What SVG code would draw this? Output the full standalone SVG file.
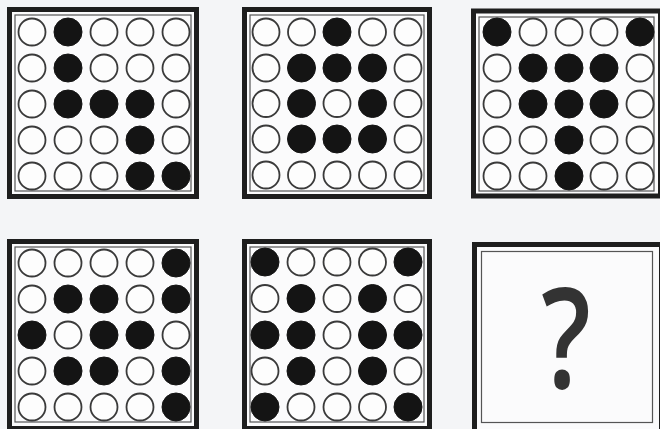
<svg xmlns="http://www.w3.org/2000/svg" width="660" height="429" viewBox="0 0 660 429">
<style>
.bg{fill:#f4f5f7}
.frame{fill:#fbfbfc;stroke:#1e1e1e;stroke-width:5}
.inner{fill:none;stroke:#555;stroke-width:1.2}
.o{fill:#fdfdfd;stroke:#3a3a3a;stroke-width:1.8}
.f{fill:#141414;stroke:#141414;stroke-width:1}
.q{font-family:"Open Sans","DejaVu Sans",sans-serif;font-size:140px;font-weight:600;fill:#333;text-anchor:middle}
</style>
<rect class="bg" x="0" y="0" width="660" height="429"/>

<g id="panel1">
<rect class="frame" x="9.5" y="9.5" width="187" height="187"/>
<rect class="inner" x="15" y="15" width="176" height="176"/>
<g transform="translate(32,32)">
<circle class="o" cx="0" cy="0" r="13.5"/><circle class="f" cx="36" cy="0" r="14"/><circle class="o" cx="72" cy="0" r="13.5"/><circle class="o" cx="108" cy="0" r="13.5"/><circle class="o" cx="144" cy="0" r="13.5"/>
<circle class="o" cx="0" cy="36" r="13.5"/><circle class="f" cx="36" cy="36" r="14"/><circle class="o" cx="72" cy="36" r="13.5"/><circle class="o" cx="108" cy="36" r="13.5"/><circle class="o" cx="144" cy="36" r="13.5"/>
<circle class="o" cx="0" cy="72" r="13.5"/><circle class="f" cx="36" cy="72" r="14"/><circle class="f" cx="72" cy="72" r="14"/><circle class="f" cx="108" cy="72" r="14"/><circle class="o" cx="144" cy="72" r="13.5"/>
<circle class="o" cx="0" cy="108" r="13.5"/><circle class="o" cx="36" cy="108" r="13.5"/><circle class="o" cx="72" cy="108" r="13.5"/><circle class="f" cx="108" cy="108" r="14"/><circle class="o" cx="144" cy="108" r="13.5"/>
<circle class="o" cx="0" cy="144" r="13.5"/><circle class="o" cx="36" cy="144" r="13.5"/><circle class="o" cx="72" cy="144" r="13.5"/><circle class="f" cx="108" cy="144" r="14"/><circle class="f" cx="144" cy="144" r="14"/>
</g>
</g>

<g id="panel2">
<rect class="frame" x="244.5" y="9.5" width="185" height="187"/>
<rect class="inner" x="250" y="15" width="174" height="176"/>
<g transform="translate(266,32)">
<circle class="o" cx="0" cy="0" r="13.5"/><circle class="o" cx="35.5" cy="0" r="13.5"/><circle class="f" cx="71" cy="0" r="14"/><circle class="o" cx="106.5" cy="0" r="13.5"/><circle class="o" cx="142" cy="0" r="13.5"/>
<circle class="o" cx="0" cy="36" r="13.5"/><circle class="f" cx="35.5" cy="36" r="14"/><circle class="f" cx="71" cy="36" r="14"/><circle class="f" cx="106.5" cy="36" r="14"/><circle class="o" cx="142" cy="36" r="13.5"/>
<circle class="o" cx="0" cy="71.5" r="13.5"/><circle class="f" cx="35.5" cy="71.5" r="14"/><circle class="o" cx="71" cy="71.5" r="13.5"/><circle class="f" cx="106.5" cy="71.5" r="14"/><circle class="o" cx="142" cy="71.5" r="13.5"/>
<circle class="o" cx="0" cy="107" r="13.5"/><circle class="f" cx="35.5" cy="107" r="14"/><circle class="f" cx="71" cy="107" r="14"/><circle class="f" cx="106.5" cy="107" r="14"/><circle class="o" cx="142" cy="107" r="13.5"/>
<circle class="o" cx="0" cy="143" r="13.5"/><circle class="o" cx="35.5" cy="143" r="13.5"/><circle class="o" cx="71" cy="143" r="13.5"/><circle class="o" cx="106.5" cy="143" r="13.5"/><circle class="o" cx="142" cy="143" r="13.5"/>
</g>
</g>

<g id="panel3">
<rect class="frame" x="473.5" y="11" width="187" height="185"/>
<rect class="inner" x="479" y="17" width="175" height="174"/>
<g transform="translate(497,32)">
<circle class="f" cx="0" cy="0" r="14"/><circle class="o" cx="36" cy="0" r="13.5"/><circle class="o" cx="72" cy="0" r="13.5"/><circle class="o" cx="107" cy="0" r="13.5"/><circle class="f" cx="143" cy="0" r="14"/>
<circle class="o" cx="0" cy="36" r="13.5"/><circle class="f" cx="36" cy="36" r="14"/><circle class="f" cx="72" cy="36" r="14"/><circle class="f" cx="107" cy="36" r="14"/><circle class="o" cx="143" cy="36" r="13.5"/>
<circle class="o" cx="0" cy="72" r="13.5"/><circle class="f" cx="36" cy="72" r="14"/><circle class="f" cx="72" cy="72" r="14"/><circle class="f" cx="107" cy="72" r="14"/><circle class="o" cx="143" cy="72" r="13.5"/>
<circle class="o" cx="0" cy="108" r="13.5"/><circle class="o" cx="36" cy="108" r="13.5"/><circle class="f" cx="72" cy="108" r="14"/><circle class="o" cx="107" cy="108" r="13.5"/><circle class="o" cx="143" cy="108" r="13.5"/>
<circle class="o" cx="0" cy="144" r="13.5"/><circle class="o" cx="36" cy="144" r="13.5"/><circle class="f" cx="72" cy="144" r="14"/><circle class="o" cx="107" cy="144" r="13.5"/><circle class="o" cx="143" cy="144" r="13.5"/>
</g>
</g>

<g id="panel4">
<rect class="frame" x="9.5" y="241.5" width="187" height="187"/>
<rect class="inner" x="15" y="247" width="176" height="175"/>
<g transform="translate(32,263)">
<circle class="o" cx="0" cy="0" r="13.5"/><circle class="o" cx="36" cy="0" r="13.5"/><circle class="o" cx="72" cy="0" r="13.5"/><circle class="o" cx="108" cy="0" r="13.5"/><circle class="f" cx="144" cy="0" r="14"/>
<circle class="o" cx="0" cy="36" r="13.5"/><circle class="f" cx="36" cy="36" r="14"/><circle class="f" cx="72" cy="36" r="14"/><circle class="o" cx="108" cy="36" r="13.5"/><circle class="f" cx="144" cy="36" r="14"/>
<circle class="f" cx="0" cy="72" r="14"/><circle class="o" cx="36" cy="72" r="13.5"/><circle class="f" cx="72" cy="72" r="14"/><circle class="f" cx="108" cy="72" r="14"/><circle class="o" cx="144" cy="72" r="13.5"/>
<circle class="o" cx="0" cy="108" r="13.5"/><circle class="f" cx="36" cy="108" r="14"/><circle class="f" cx="72" cy="108" r="14"/><circle class="o" cx="108" cy="108" r="13.5"/><circle class="f" cx="144" cy="108" r="14"/>
<circle class="o" cx="0" cy="144" r="13.5"/><circle class="o" cx="36" cy="144" r="13.5"/><circle class="o" cx="72" cy="144" r="13.5"/><circle class="o" cx="108" cy="144" r="13.5"/><circle class="f" cx="144" cy="144" r="14"/>
</g>
</g>

<g id="panel5">
<rect class="frame" x="244.5" y="241.5" width="185" height="187"/>
<rect class="inner" x="250" y="247" width="174" height="175"/>
<g transform="translate(265,262)">
<circle class="f" cx="0" cy="0" r="14"/><circle class="o" cx="36" cy="0" r="13.5"/><circle class="o" cx="72" cy="0" r="13.5"/><circle class="o" cx="107.5" cy="0" r="13.5"/><circle class="f" cx="143" cy="0" r="14"/>
<circle class="o" cx="0" cy="36.5" r="13.5"/><circle class="f" cx="36" cy="36.5" r="14"/><circle class="o" cx="72" cy="36.5" r="13.5"/><circle class="f" cx="107.5" cy="36.5" r="14"/><circle class="o" cx="143" cy="36.5" r="13.5"/>
<circle class="f" cx="0" cy="73" r="14"/><circle class="f" cx="36" cy="73" r="14"/><circle class="o" cx="72" cy="73" r="13.5"/><circle class="f" cx="107.5" cy="73" r="14"/><circle class="f" cx="143" cy="73" r="14"/>
<circle class="o" cx="0" cy="109" r="13.5"/><circle class="f" cx="36" cy="109" r="14"/><circle class="o" cx="72" cy="109" r="13.5"/><circle class="f" cx="107.5" cy="109" r="14"/><circle class="o" cx="143" cy="109" r="13.5"/>
<circle class="f" cx="0" cy="145" r="14"/><circle class="o" cx="36" cy="145" r="13.5"/><circle class="o" cx="72" cy="145" r="13.5"/><circle class="o" cx="107.5" cy="145" r="13.5"/><circle class="f" cx="143" cy="145" r="14"/>
</g>
</g>

<g id="panel6">
<rect class="frame" x="474.5" y="244.5" width="187" height="187"/>
<rect class="inner" x="481.5" y="251.5" width="171" height="171"/>
<text class="q" x="0" y="0" transform="translate(566,388) scale(0.78,1)">?</text>
</g>
</svg>
